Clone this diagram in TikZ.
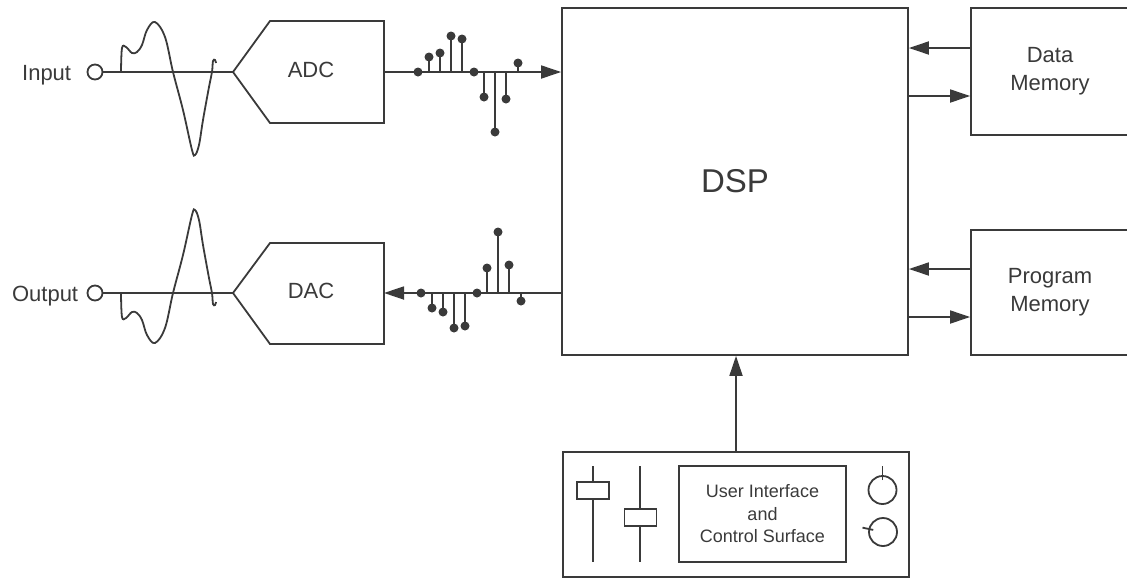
\documentclass[tikz,border=0pt]{standalone}
\usepackage{fontspec}
\setmainfont{Liberation Sans}
\usetikzlibrary{arrows.meta,positioning}
\definecolor{ink}{HTML}{3A3A3A}

\tikzset{
  block/.style={draw,rectangle,inner sep=0pt},
  port/.style={draw,circle,minimum size=15pt,inner sep=0pt},
  dot/.style={fill,circle,minimum size=9pt,inner sep=0pt},
  handle/.style={draw,fill=white,rectangle,minimum width=32pt,minimum height=17pt,inner sep=0pt},
  knob/.style={draw,circle,minimum size=28pt,inner sep=0pt},
  lbl/.style={font=\fontsize{22}{28}\selectfont,inner sep=0pt},
  wave/.pic={\draw[line width=1.8pt] plot[smooth,tension=0.6] coordinates {(0,0) (1,-24) (5,-25) (11,-19) (16,-20) (21,-27) (26,-42) (34,-50) (44,-35) (52,0) (62,38) (71,78) (74,83) (78,73) (82,48) (88,15) (91,0) (92,-11) (94,-12) (95,-9)};}
}

\begin{document}
\begin{tikzpicture}[x=1pt,y=-1pt,>={Triangle[length=20pt,width=13pt]},line width=1.8pt,color=ink]
  \useasboundingbox (0,0) rectangle (1127,579);

  \node[block,minimum width=346pt,minimum height=347pt,font=\fontsize{33}{40}\selectfont] (dsp) at (735,181.5) {DSP};
  \node[block,lbl,minimum width=158pt,minimum height=127pt,align=center] (datamem) at (1050,71.5) {Data\\Memory};
  \node[block,lbl,minimum width=158pt,minimum height=125pt,align=center] (progmem) at (1050,292.5) {Program\\Memory};
  \node[block,minimum width=346pt,minimum height=125pt] (ui) at (736,514.5) {};
  \node[block,minimum width=167pt,minimum height=96pt,align=center,font=\fontsize{18}{22.5}\selectfont] (uitext) at (762.5,514) {User Interface\\and\\Control Surface};

  \coordinate (dm1) at ([yshift=23.5pt]datamem.west);
  \coordinate (dm2) at ([yshift=-24.5pt]datamem.west);
  \coordinate (pm1) at ([yshift=23.5pt]progmem.west);
  \coordinate (pm2) at ([yshift=-24.5pt]progmem.west);
  \draw[->] (dm1) -- (dm1 -| dsp.east);
  \draw[->] (dm2 -| dsp.east) -- (dm2);
  \draw[->] (pm1) -- (pm1 -| dsp.east);
  \draw[->] (pm2 -| dsp.east) -- (pm2);
  \draw[->] (ui.north) -- (ui.north |- dsp.south);

  \draw (593,466) -- (593,562);
  \draw (640,466) -- (640,562);
  \node[handle] (fader1) at (593,490.5) {};
  \node[handle] (fader2) at (640.5,517.5) {};
  \node[knob] (knob1) at (882.5,490) {};
  \node[knob] (knob2) at (883,532) {};
  \draw ([yshift=-5pt]knob1.north) -- ([yshift=9pt]knob1.north);
  \draw (knob2.center) ++(192:10) -- ++(192:11);

  \node[port] (in) at (95,72) {};
  \node[lbl,anchor=base east] (inlbl) at (72,80) {Input};
  \coordinate (adcin) at (233,72);
  \coordinate (adcout) at (384,72);
  \draw (in) -- (adcin);
  \pic at (121,72) {wave};
  \draw (adcin) -- (270,21) -- (384,21) -- (384,123) -- (270,123) -- cycle;
  \node[lbl] (adc) at (311,70) {ADC};
  \draw[->] (adcout) -- (adcout -| dsp.west);
  \foreach \x/\y in {429/57,440/53,451/36,462/39,484/97,495/132,506/99,518/63}
    \draw (\x,72) -- (\x,\y) node[dot] (ia\x) {};
  \foreach \x in {418,474}
    \node[dot] (ib\x) at (\x,72) {};

  \node[port] (out) at (95,293) {};
  \node[lbl,anchor=base east] (outlbl) at (79,301) {Output};
  \coordinate (dacin) at (384,293);
  \coordinate (dacout) at (233,293);
  \draw (out) -- (dacout);
  \pic[yscale=-1] at (121,293) {wave};
  \draw (dacout) -- (270,243) -- (384,243) -- (384,344) -- (270,344) -- cycle;
  \node[lbl] (dac) at (311,291) {DAC};
  \draw[->] (dacin -| dsp.west) -- (dacin);
  \foreach \x/\y in {432/308,443/312,454/328,465/326,487/268,498/232,509/265,521/301}
    \draw (\x,293) -- (\x,\y) node[dot] (oa\x) {};
  \foreach \x in {421,477}
    \node[dot] (ob\x) at (\x,293) {};
\end{tikzpicture}
\end{document}
